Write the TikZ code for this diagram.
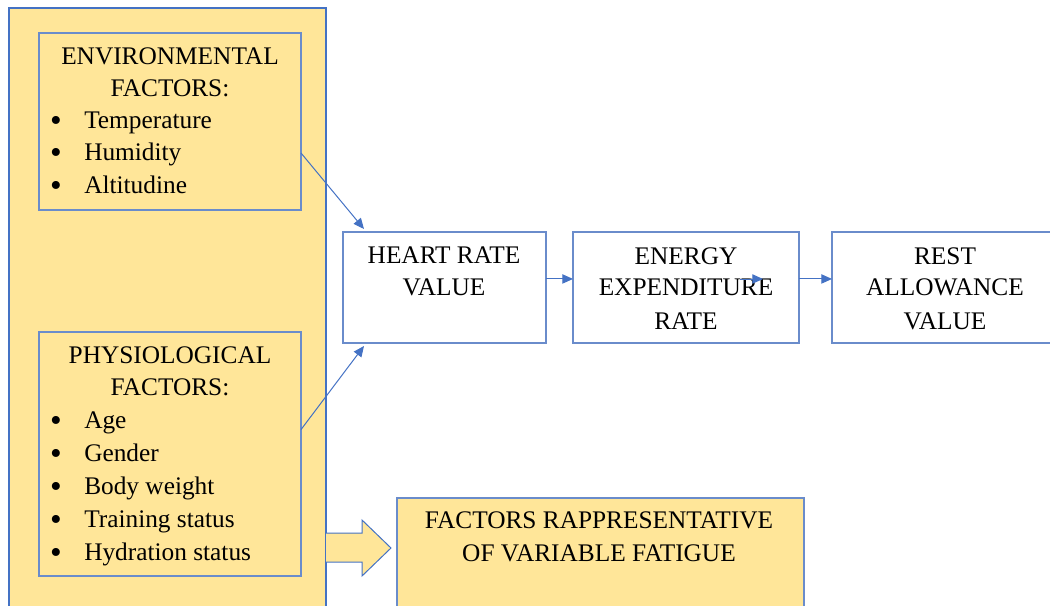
\documentclass[tikz,border=0pt]{standalone}
\usepackage{fontspec}
\setmainfont{Liberation Serif}
\usetikzlibrary{arrows.meta,calc,fit}
\definecolor{boxfill}{HTML}{FFE699}
\definecolor{edge}{HTML}{4472C4}
\definecolor{boxline}{HTML}{6A8CCB}

\begin{document}
\begin{tikzpicture}[x=0.75pt,y=-0.75pt,
  box/.style={draw=boxline, line width=0.8pt, inner sep=0pt, outer sep=0pt},
  outerbox/.style={draw=edge, line width=0.8pt, fill=boxfill, inner sep=0pt, outer sep=0pt},
  line/.style={font=\fontsize{19}{24}\selectfont, inner sep=0pt},
  head/.style={line, anchor=base},
  item/.style={line, anchor=base west},
  dot/.style={font=\fontsize{25}{25}\selectfont, inner sep=0pt, anchor=base},
  link/.style={draw=edge, line width=0.75pt, -{Triangle[length=8pt,width=7pt]}}]
\useasboundingbox (0,0) rectangle (1050,606);
\clip (0,0) rectangle (1050,606);

% left panel holding both factor groups
\node[outerbox, fit={(9,8) (326,640)}] (panel) {};

% block arrow towards the fatigue box
\filldraw[draw=edge, fill=boxfill, line width=0.75pt, line join=miter]
  (326,533) -- (362,533) -- (362,520) -- (391,548) -- (362,576) -- (362,562) -- (326,562);

% factor groups
\node[box, fill=boxfill, fit={(39,33) (301,210)}] (env) {};
\node[box, fill=boxfill, fit={(39,332) (301,576)}] (phys) {};

% process chain
\node[box, fill=white, fit={(343,232) (546,343)}] (heart) {};
\node[box, fill=white, fit={(573,232) (799,343)}] (energy) {};
\node[box, fill=white, fit={(832,232) (1070,343)}] (rest) {};

% summary box
\node[box, fill=boxfill, fit={(397,498) (804,640)}] (fatigue) {};

% environmental factors text
\node[head] (envt1) at (170,65) {ENVIRONMENTAL};
\node[head] (envt2) at (170,97) {FACTORS:};
\foreach \t [count=\i] in {Temperature,Humidity,Altitudine}{
  \node[dot] (envb\i) at (56,{99+32.4*\i}) {\textbullet};
  \node[item] (envi\i) at (84,{96+32.4*\i}) {\t};
}

% physiological factors text
\node[head] (phyt1) at (170,363) {PHYSIOLOGICAL};
\node[head] (phyt2) at (170,395) {FACTORS:};
\foreach \t [count=\i] in {Age,Gender,Body weight,Training status,Hydration status}{
  \node[dot] (phyb\i) at (56,{398+33*\i}) {\textbullet};
  \node[item] (phyi\i) at (84,{395+33*\i}) {\t};
}

% chain labels
\node[head] (h1) at (444,263) {HEART RATE};
\node[head] (h2) at (444,296) {VALUE};
\node[head] (e1) at (686,264) {ENERGY};
\node[head] (e2) at (686,296) {EXPENDITURE};
\node[head] (e3) at (686,329) {RATE};
\node[head] (r1) at (945,264) {REST};
\node[head] (r2) at (945,296) {ALLOWANCE};
\node[head] (r3) at (945,329) {VALUE};

% summary labels
\node[head] (f1) at (599,528) {FACTORS RAPPRESENTATIVE};
\node[head] (f2) at (599,561) {OF VARIABLE FATIGUE};

% connectors
\coordinate (envout) at ($(env.north east)!0.678!(env.south east)$);
\coordinate (phyout) at ($(phys.north east)!0.40!(phys.south east)$);
\coordinate (heartin1) at ($(heart.north west)+(21,-3)$);
\coordinate (heartin2) at ($(heart.south west)+(21,3)$);
\coordinate (midA) at ($(energy.east)+(-59,-8.5)$);
\coordinate (midB) at ($(energy.east)+(-36,-8.5)$);

\draw[link] (envout) -- (heartin1);
\draw[link] (phyout) -- (heartin2);
\draw[link] ([yshift=6.4pt]heart.east) -- ([yshift=6.4pt]energy.west);
\draw[link] (midA) -- (midB);
\draw[link] ([yshift=6.4pt]energy.east) -- ([yshift=6.4pt]rest.west);
\end{tikzpicture}
\end{document}
